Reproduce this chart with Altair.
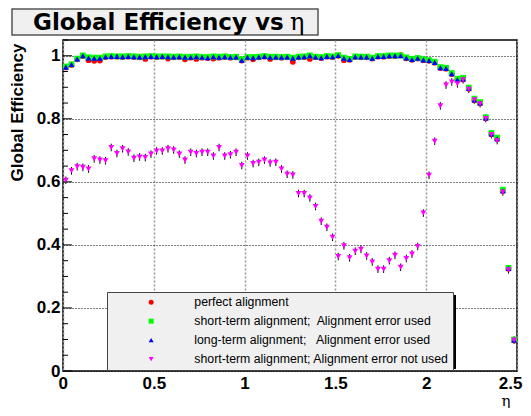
import numpy as np
import pandas as pd
import altair as alt

# binning of the eta axis
N_BINS = 80
ETA_MAX = 2.5

series_names = [
    "perfect alignment",
    "short-term alignment;\u00a0 Alignment error used",
    "long-term alignment;\u00a0\u00a0 Alignment error used",
    "short-term alignment; Alignment error not used",
]
series_colors = ["#ff0000", "#00ff00", "#0000ff", "#ff00ff"]
series_shapes = ["circle", "square", "triangle-up", "triangle-down"]

eff_perfect = [
    0.963, 0.971, 0.989, 0.999, 0.986, 0.984, 0.985, 0.996, 0.997, 0.997,
    0.996, 0.997, 0.996, 0.995, 0.990, 0.997, 0.996, 0.997, 0.991, 0.995,
    0.996, 0.989, 0.994, 0.990, 0.994, 0.993, 0.991, 0.994, 0.996, 0.994,
    0.995, 0.985, 0.994, 0.989, 0.995, 0.997, 0.990, 0.995, 0.994, 0.995,
    0.981, 0.995, 0.996, 0.990, 0.995, 0.993, 0.997, 0.996, 1.000, 0.986,
    0.987, 0.996, 0.995, 0.995, 0.991, 0.997, 0.997, 0.999, 0.999, 1.002,
    0.992, 0.987, 0.991, 0.986, 0.984, 0.978, 0.961, 0.959, 0.942, 0.923,
    0.925, 0.895, 0.859, 0.849, 0.802, 0.751, 0.736, 0.571, 0.324, 0.097,
]
eff_short = [
    0.966, 0.973, 0.991, 1.001, 0.995, 0.994, 0.994, 0.998, 0.999, 0.998,
    0.998, 0.999, 0.998, 0.997, 0.998, 0.999, 0.998, 0.998, 0.998, 0.997,
    0.998, 0.996, 0.997, 0.998, 0.996, 0.996, 0.998, 0.997, 0.998, 0.996,
    0.997, 0.989, 0.996, 0.996, 0.997, 0.999, 0.997, 0.997, 0.996, 0.997,
    0.994, 0.997, 0.998, 1.001, 0.997, 0.996, 0.999, 0.998, 1.002, 0.994,
    0.990, 0.998, 0.997, 0.997, 0.994, 0.999, 0.999, 1.001, 1.001, 1.001,
    0.995, 0.990, 0.993, 0.989, 0.986, 0.981, 0.964, 0.962, 0.945, 0.927,
    0.930, 0.899, 0.864, 0.853, 0.805, 0.755, 0.740, 0.575, 0.327, 0.100,
]
eff_long = [
    0.964, 0.972, 0.990, 1.000, 0.993, 0.992, 0.992, 0.997, 0.998, 0.998,
    0.997, 0.998, 0.997, 0.996, 0.997, 0.998, 0.997, 0.998, 0.997, 0.996,
    0.997, 0.995, 0.995, 0.997, 0.995, 0.994, 0.997, 0.995, 0.997, 0.995,
    0.996, 0.986, 0.995, 0.994, 0.996, 0.998, 0.995, 0.996, 0.995, 0.996,
    0.992, 0.996, 0.997, 1.000, 0.996, 0.994, 0.998, 0.997, 1.001, 0.992,
    0.988, 0.997, 0.996, 0.996, 0.992, 0.998, 0.998, 1.000, 1.000, 1.000,
    0.993, 0.988, 0.992, 0.987, 0.985, 0.979, 0.962, 0.960, 0.943, 0.924,
    0.926, 0.896, 0.860, 0.850, 0.803, 0.752, 0.737, 0.572, 0.325, 0.098,
]
eff_short_noerr = [
    0.605, 0.635, 0.648, 0.646, 0.641, 0.673, 0.669, 0.667, 0.709, 0.690,
    0.705, 0.695, 0.675, 0.679, 0.677, 0.688, 0.698, 0.698, 0.705, 0.701,
    0.688, 0.669, 0.694, 0.690, 0.694, 0.694, 0.682, 0.709, 0.682, 0.686,
    0.694, 0.652, 0.682, 0.658, 0.662, 0.669, 0.660, 0.662, 0.641, 0.624,
    0.622, 0.563, 0.563, 0.549, 0.522, 0.475, 0.456, 0.424, 0.363, 0.397,
    0.359, 0.380, 0.386, 0.365, 0.346, 0.323, 0.323, 0.350, 0.367, 0.329,
    0.357, 0.371, 0.395, 0.501, 0.621, 0.729, 0.841, 0.907, 0.917, 0.911,
    0.924, 0.894, 0.860, 0.848, 0.801, 0.750, 0.731, 0.568, 0.321, 0.098,
]
ERR_NOERR = 0.012  # approx. stat. error on the last series

x_ticks = [0, 0.5, 1, 1.5, 2, 2.5]
y_major = [0, 0.2, 0.4, 0.6, 0.8, 1.0]
y_minor = [0.05, 0.1, 0.15, 0.25, 0.3, 0.35, 0.45, 0.5, 0.55,
           0.65, 0.7, 0.75, 0.85, 0.9, 0.95, 1.05]

W, H = 454, 331
FONT = "Liberation Sans"

eta = (np.arange(N_BINS) + 0.5) * ETA_MAX / N_BINS
all_eff = [eff_perfect, eff_short, eff_long, eff_short_noerr]
df = pd.concat(
    [pd.DataFrame({"eta": eta, "eff": vals, "series": name})
     for name, vals in zip(series_names, all_eff)],
    ignore_index=True,
)

x_scale = alt.Scale(domain=[0, ETA_MAX], nice=False, zero=False)
y_scale = alt.Scale(domain=[0, 1.05], nice=False, zero=False)

x_axis = alt.Axis(
    values=x_ticks, format="~g", labelFont=FONT, labelFontWeight="bold",
    labelFontSize=17, labelColor="black", labelPadding=4, tickSize=0,
    domain=False, grid=True, gridColor="#999999", gridDash=[2, 2],
    gridWidth=1.5, labelFlush=True, labelFlushOffset=5,
    title="η", titleFont="DejaVu Serif", titleFontWeight="normal",
    titleFontSize=15, titleColor="black", titleAlign="right",
    titleBaseline="alphabetic", titleX=447, titleY=34,
)
y_axis = alt.Axis(
    values=y_major, format="~g", labelFont=FONT, labelFontWeight="bold",
    labelFontSize=17, labelColor="black", labelPadding=3, tickSize=0,
    domain=False, grid=True, gridColor="black", gridDash=[1, 2],
    gridWidth=1, title="Global Efficiency", titleFont=FONT,
    titleFontWeight="bold", titleFontSize=17, titleColor="black",
    titleAngle=270, titleAlign="right", titleBaseline="middle",
    titleX=-46, titleY=3,
)

points = alt.Chart(df).mark_point(filled=True, opacity=1, size=34).encode(
    x=alt.X("eta:Q", scale=x_scale, axis=x_axis),
    y=alt.Y("eff:Q", scale=y_scale, axis=y_axis),
    color=alt.Color(
        "series:N",
        scale=alt.Scale(domain=series_names, range=series_colors),
        legend=alt.Legend(title=None),
    ),
    shape=alt.Shape(
        "series:N",
        scale=alt.Scale(domain=series_names, range=series_shapes),
        legend=alt.Legend(title=None),
    ),
)

errbars = (
    alt.Chart(df)
    .transform_filter(alt.datum.series == series_names[3])
    .transform_calculate(lo=f"datum.eff - {ERR_NOERR}", hi=f"datum.eff + {ERR_NOERR}")
    .mark_rule(color="black", strokeWidth=1)
    .encode(
        x=alt.X("eta:Q", scale=x_scale, axis=x_axis),
        y=alt.Y("lo:Q", scale=y_scale, axis=y_axis),
        y2="hi:Q",
    )
)

major_ticks = (
    alt.Chart(pd.DataFrame({"v": y_major}))
    .mark_rule(color="black", strokeWidth=1)
    .encode(x=alt.value(0), x2=alt.value(9),
            y=alt.Y("v:Q", scale=y_scale, axis=y_axis))
)
minor_ticks = (
    alt.Chart(pd.DataFrame({"v": y_minor}))
    .mark_rule(color="black", strokeWidth=1)
    .encode(x=alt.value(0), x2=alt.value(5),
            y=alt.Y("v:Q", scale=y_scale, axis=y_axis))
)

one = pd.DataFrame({"k": [0]})
legend_shadow = alt.Chart(one).mark_rect(color="black").encode(
    x=alt.value(47), x2=alt.value(393), y=alt.value(255), y2=alt.value(329)
)
title_box = alt.Chart(one).mark_rect(
    fill="#f0f0f0", stroke="#555555", strokeWidth=1.5
).encode(x=alt.value(-51), x2=alt.value(255), y=alt.value(-31), y2=alt.value(-5))
title_txt = alt.Chart(one).mark_text(
    text="Global Efficiency vs", font="DejaVu Sans", fontWeight="bold",
    fontSize=23, align="left", baseline="alphabetic", color="black",
).encode(x=alt.value(-30), y=alt.value(-10))
title_eta = alt.Chart(one).mark_text(
    text="η", font="DejaVu Serif", fontSize=24, align="left",
    baseline="alphabetic", color="black",
).encode(x=alt.value(227), y=alt.value(-10))

chart = (
    alt.layer(major_ticks, minor_ticks, errbars, points, legend_shadow,
              title_box, title_txt, title_eta)
    .properties(
        width=W, height=H,
        autosize=alt.AutoSizeParams(type="none"),
        padding={"left": 55, "top": 32, "right": 6, "bottom": 37},
        background="white",
    )
    .configure_view(stroke="black", strokeWidth=1.5)
    .configure_legend(
        orient="none", legendX=44, legendY=252, padding=4,
        fillColor="#f0f0f0", strokeColor="#444444", strokeWidth=1,
        labelFont=FONT, labelFontSize=12.3, labelColor="black",
        symbolSize=25, symbolStrokeWidth=0, symbolOffset=34,
        labelOffset=37, rowPadding=6, labelLimit=400,
    )
)

chart.save("out.html", embed_options={"renderer": "svg", "actions": False})
